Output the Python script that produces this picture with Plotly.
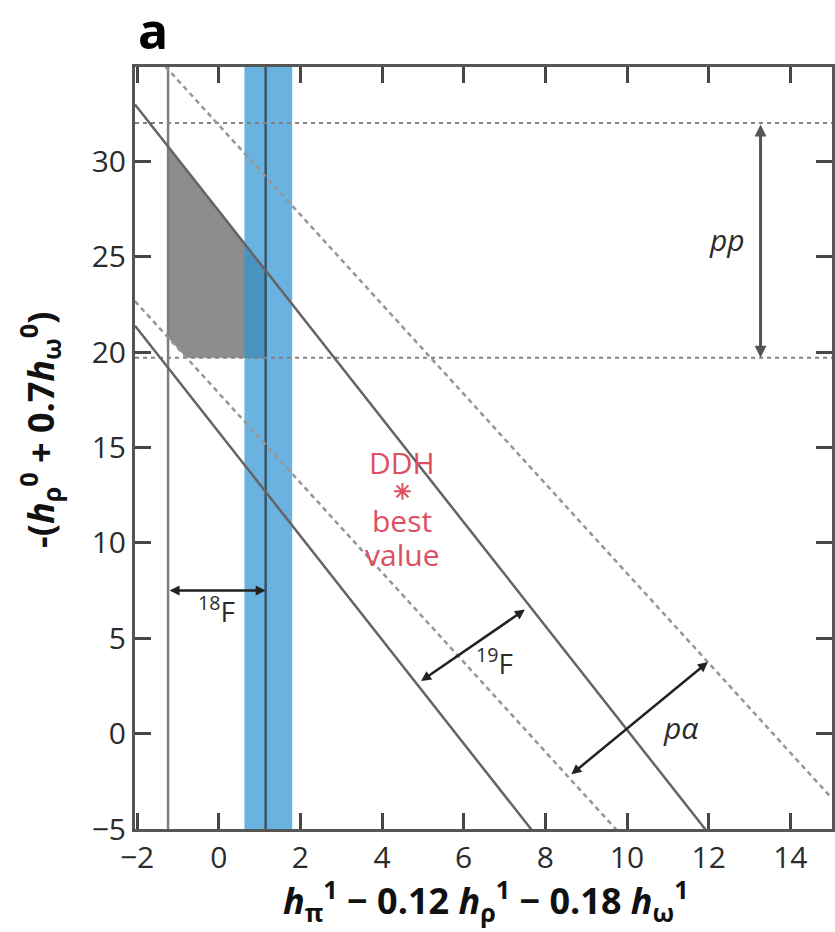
import numpy as np
import plotly.graph_objects as go

# ---- data ----
x_range = [-2.05, 15.02]
y_range = [-5.0, 34.94]
x_ticks = [-2, 0, 2, 4, 6, 8, 10, 12, 14]
y_ticks = [-5, 0, 5, 10, 15, 20, 25, 30]

F18_x = [-1.24, 1.15]            # 18F allowed band (vertical lines)
blue_band_x = [0.63, 1.80]       # blue vertical band
pp_y = [19.7, 32.0]              # pp allowed band (horizontal dotted lines)
F19_slope = -2.72                # 19F band (solid diagonals)
F19_intercepts = [15.8, 27.4]
pa_slope = -2.35                 # p-alpha band (dashed diagonals)
pa_intercepts = [17.85, 31.9]
ddh_best = [4.5, 12.7]           # DDH best value

arrow_18F = [[-1.24, 7.5], [1.15, 7.5]]
arrow_19F = [[4.92, 2.7], [7.5, 6.5]]
arrow_pa = [[8.6, -2.2], [11.98, 3.75]]
arrow_pp = [[13.27, 32.0], [13.27, 19.7]]

FONT = "Open Sans"
fig = go.Figure()

# gray overlap region: intersection of all bands inside the 18F band
upper = [(F19_slope, F19_intercepts[1]), (pa_slope, pa_intercepts[1]), (0.0, pp_y[1])]
lower = [(F19_slope, F19_intercepts[0]), (pa_slope, pa_intercepts[0]), (0.0, pp_y[0])]
brk = {F18_x[0], F18_x[1]}
for group in (upper, lower):
    for i in range(len(group)):
        for j in range(i + 1, len(group)):
            m1, c1 = group[i]
            m2, c2 = group[j]
            if m1 != m2:
                xi = (c2 - c1) / (m1 - m2)
                if F18_x[0] < xi < F18_x[1]:
                    brk.add(xi)
xs = np.array(sorted(brk))
top = np.min([c + m * xs for m, c in upper], axis=0)
bot = np.max([c + m * xs for m, c in lower], axis=0)
fig.add_trace(go.Scatter(x=np.concatenate([xs, xs[::-1]]),
                         y=np.concatenate([top, bot[::-1]]),
                         fill="toself", fillcolor="rgb(140,140,140)",
                         line=dict(width=0.5, color="rgb(140,140,140)"),
                         mode="lines", hoverinfo="skip"))

# blue band
fig.add_trace(go.Scatter(x=[blue_band_x[0], blue_band_x[1], blue_band_x[1], blue_band_x[0]],
                         y=[y_range[0], y_range[0], y_range[1], y_range[1]],
                         fill="toself", fillcolor="rgba(48,148,212,0.72)",
                         line=dict(width=0), mode="lines", hoverinfo="skip"))

# vertical lines of 18F band
fig.add_trace(go.Scatter(x=[F18_x[0], F18_x[0]], y=y_range, mode="lines",
                         line=dict(color="rgb(125,125,125)", width=2.5)))
fig.add_trace(go.Scatter(x=[F18_x[1], F18_x[1]], y=y_range, mode="lines",
                         line=dict(color="rgb(55,85,105)", width=2.5)))

# horizontal pp dotted lines
for yv in pp_y:
    fig.add_trace(go.Scatter(x=x_range, y=[yv, yv], mode="lines",
                             line=dict(color="rgb(130,130,130)", width=2, dash="4px,4px")))

# diagonals
xl = np.array(x_range)
for c in F19_intercepts:
    fig.add_trace(go.Scatter(x=xl, y=c + F19_slope * xl, mode="lines",
                             line=dict(color="rgb(100,100,100)", width=2.5)))
for c in pa_intercepts:
    fig.add_trace(go.Scatter(x=xl, y=c + pa_slope * xl, mode="lines",
                             line=dict(color="rgb(150,150,150)", width=2.5, dash="5px,4px")))

red = "rgb(220,80,95)"
# DDH best value marker
fig.add_trace(go.Scatter(x=[ddh_best[0]], y=[ddh_best[1]], mode="markers",
                         marker=dict(symbol="asterisk-open", size=14, color=red,
                                     line=dict(color=red, width=2))))

ann = []
def txt(x, y, t, size=30, color="#2b2b2b", **kw):
    d = dict(x=x, y=y, xref="x", yref="y", text=t, showarrow=False,
             xanchor="center", yanchor="middle",
             font=dict(family=FONT, size=size, color=color))
    d.update(kw)
    ann.append(d)

txt(ddh_best[0], 14.2, "DDH", color=red)
txt(ddh_best[0], 11.15, "best", color=red)
txt(ddh_best[0], 9.4, "value", color=red)
txt(-0.05, 6.5, "<sup>18</sup>F", size=28)
txt(6.75, 3.8, "<sup>19</sup>F", size=28)
txt(11.32, 0.3, "<i>pα</i>", size=30)
txt(12.46, 25.9, "<i>pp</i>", size=30)

def arrow(p0, p1, color="#222", width=2.5):
    ann.append(dict(x=p1[0], y=p1[1], ax=p0[0], ay=p0[1], xref="x", yref="y",
                    axref="x", ayref="y", text="", showarrow=True,
                    arrowhead=2, startarrowhead=2, arrowside="end+start",
                    arrowsize=0.8, startarrowsize=0.8, arrowwidth=width,
                    arrowcolor=color, standoff=0, startstandoff=0))

arrow(*arrow_18F)
arrow(*arrow_19F)
arrow(*arrow_pa)
arrow(*arrow_pp, color="#555", width=3)

# axis titles and panel label
ann.append(dict(x=0.503, y=-0.094, xref="paper", yref="paper", showarrow=False,
                xanchor="center", yanchor="middle",
                text="<b><i>h</i><sub>π</sub><sup>1</sup> − 0.12 <i>h</i><sub>ρ</sub><sup>1</sup>"
                     " − 0.18 <i>h</i><sub>ω</sub><sup>1</sup></b>",
                font=dict(family=FONT, size=36, color="#111")))
ann.append(dict(x=-0.136, y=0.524, xref="paper", yref="paper", showarrow=False,
                xanchor="center", yanchor="middle", textangle=-90,
                text="<b>-(<i>h</i><sub>ρ</sub><sup>0</sup> + 0.7<i>h</i><sub>ω</sub><sup>0</sup>)</b>",
                font=dict(family=FONT, size=36, color="#111")))
ann.append(dict(x=0.026, y=1.049, xref="paper", yref="paper", showarrow=False,
                xanchor="center", yanchor="middle",
                text="<b>a</b>", font=dict(family=FONT, size=50, color="#000")))

axis_common = dict(showgrid=False, zeroline=False, showline=True, linewidth=3,
                   linecolor="rgb(85,85,85)", mirror="ticks", ticks="inside",
                   ticklen=16, tickwidth=3, tickcolor="rgb(70,70,70)",
                   tickfont=dict(family=FONT, size=30, color="#2b2b2b"))

fig.update_layout(
    width=835, height=932, showlegend=False,
    paper_bgcolor="white", plot_bgcolor="white",
    margin=dict(l=135, r=0, t=67, b=103),
    xaxis=dict(range=x_range, tickvals=x_ticks, **axis_common),
    yaxis=dict(range=y_range, tickvals=y_ticks, **axis_common),
    annotations=ann,
)
fig.write_html("out.html")
